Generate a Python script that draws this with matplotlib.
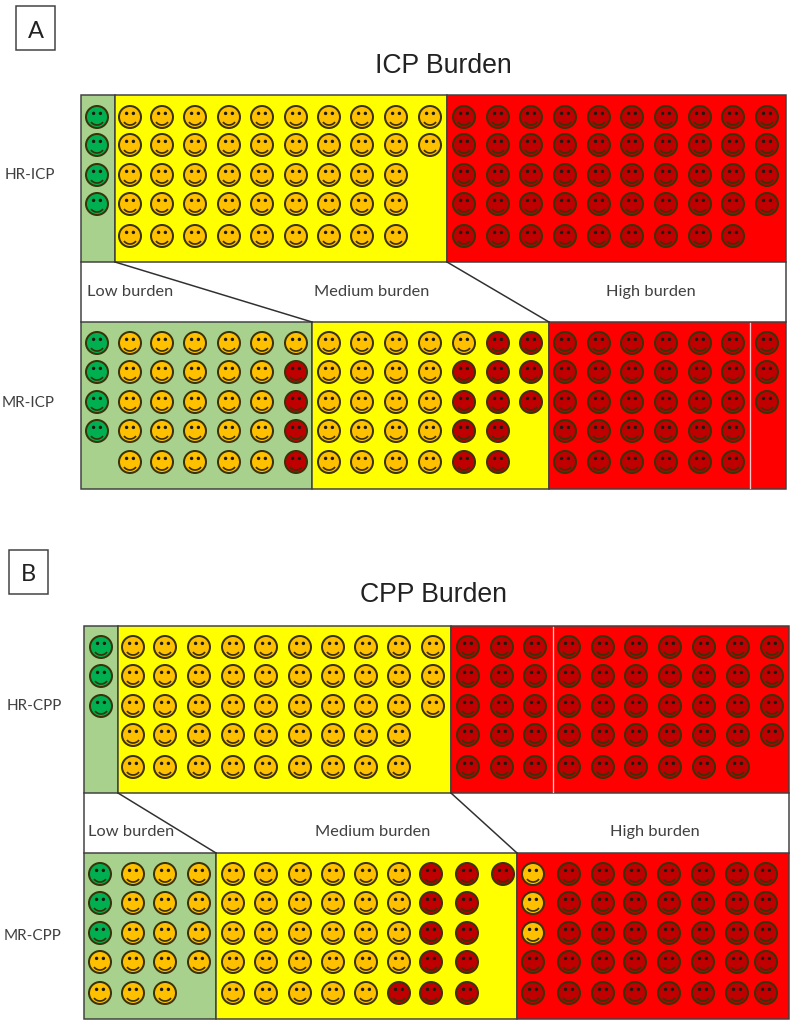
import matplotlib
matplotlib.use("Agg")
import matplotlib.pyplot as plt
from matplotlib.patches import Rectangle, Circle, Arc

# ---- data: number of faces per column (stacked green, amber, dark red from the top)
panels = ["ICP Burden", "CPP Burden"]
panel_letters = ["A", "B"]
burden_levels = ["Low burden", "Medium burden", "High burden"]
row_names = ["HR-ICP", "MR-ICP", "HR-CPP", "MR-CPP"]

hr_icp_green = [4] + [0] * 20
hr_icp_amber = [0] + [5] * 9 + [2] + [0] * 10
hr_icp_red = [0] * 11 + [5] * 9 + [4]

mr_icp_green = [4] + [0] * 20
mr_icp_amber = [0, 5, 5, 5, 5, 5, 1, 5, 5, 5, 5, 1, 0, 0, 0, 0, 0, 0, 0, 0, 0]
mr_icp_red = [0, 0, 0, 0, 0, 0, 4, 0, 0, 0, 0, 4, 5, 3, 5, 5, 5, 5, 5, 5, 3]

hr_cpp_green = [3] + [0] * 20
hr_cpp_amber = [0] + [5] * 9 + [3] + [0] * 10
hr_cpp_red = [0] * 11 + [5] * 9 + [4]

mr_cpp_green = [3] + [0] * 20
mr_cpp_amber = [2, 5, 5, 4, 5, 5, 5, 5, 5, 4, 0, 0, 0, 3, 0, 0, 0, 0, 0, 0, 0]
mr_cpp_red = [0, 0, 0, 0, 0, 0, 0, 0, 0, 1, 5, 5, 1, 2, 5, 5, 5, 5, 5, 5, 5]

# ---- layout, in reference pixels
W, H = 794, 1029
COLS_A = [97, 130, 162, 195, 229, 262, 296, 329, 362, 396, 430, 464, 498, 531, 565, 599, 632, 666, 700, 733, 767]
COLS_B_TOP = [101, 133, 165, 199, 233, 266, 300, 333, 366, 399, 433, 468, 502, 535, 569, 603, 636, 670, 704, 738, 772]
COLS_B_BOT = [100, 133, 165, 199, 233, 266, 300, 333, 366, 399, 431, 467, 503, 533, 569, 603, 635, 669, 703, 737, 766]
LAYOUT = [
    dict(x0=81, x1=786, y0=95, y1=262, s1=115, s2=447, cols=COLS_A, rows=[117, 145, 175, 204, 236],
         g=hr_icp_green, a=hr_icp_amber, r=hr_icp_red),
    dict(x0=81, x1=786, y0=322, y1=489, s1=312, s2=549, cols=COLS_A, rows=[343, 372, 402, 431, 462],
         g=mr_icp_green, a=mr_icp_amber, r=mr_icp_red),
    dict(x0=84, x1=789, y0=626, y1=793, s1=118, s2=451, cols=COLS_B_TOP, rows=[647, 676, 706, 735, 767],
         g=hr_cpp_green, a=hr_cpp_amber, r=hr_cpp_red),
    dict(x0=84, x1=789, y0=853, y1=1019, s1=216, s2=517, cols=COLS_B_BOT, rows=[874, 903, 933, 962, 993],
         g=mr_cpp_green, a=mr_cpp_amber, r=mr_cpp_red),
]
EDGE = "#404040"
TEXT = "#404040"
FACE_EDGE = "#3a3208"
BANDS = ["#A9D18E", "#FFFF00", "#FF0000"]
FACES = ["#00B050", "#FFC000", "#C00000"]
PX = 72 / 100

fig = plt.figure(figsize=(W / 100, H / 100), dpi=100)
ax = fig.add_axes([0, 0, 1, 1])
ax.set_xlim(0, W)
ax.set_ylim(H, 0)
ax.axis("off")


def face(x, y, color):
    ax.add_patch(Circle((x, y), 11, fc=color, ec=FACE_EDGE, lw=2.0 * PX, zorder=3))
    for dx in (-3.4, 3.4):
        ax.add_patch(Circle((x + dx, y - 3.6), 1.7, fc="#1c1c10", ec="none", zorder=4))
    ax.add_patch(Arc((x, y + 0.5), 15, 15, theta1=37, theta2=143, ec=FACE_EDGE, lw=1.7 * PX, zorder=4))


for p in LAYOUT:
    edges = [p["x0"], p["s1"], p["s2"], p["x1"]]
    for i, c in enumerate(BANDS):
        ax.add_patch(Rectangle((edges[i], p["y0"]), edges[i + 1] - edges[i], p["y1"] - p["y0"],
                               fc=c, ec=EDGE, lw=1.5 * PX, zorder=1))
    for ci, x in enumerate(p["cols"]):
        stack = [FACES[0]] * p["g"][ci] + [FACES[1]] * p["a"][ci] + [FACES[2]] * p["r"][ci]
        for ri, c in enumerate(stack):
            face(x, p["rows"][ri], c)

# white-space frames and connectors between the two rows
for top, bot in ((LAYOUT[0], LAYOUT[1]), (LAYOUT[2], LAYOUT[3])):
    for x in (top["x0"], top["x1"]):
        ax.plot([x, x], [top["y1"], bot["y0"]], color=EDGE, lw=1.5 * PX, zorder=1)
    for key in ("s1", "s2"):
        ax.plot([top[key], bot[key]], [top["y1"], bot["y0"]], color="#303030", lw=1.5 * PX, zorder=2)

# thin light seams
ax.plot([750, 750], [323, 488], color="#FFC8C8", lw=1.3 * PX, zorder=2)
ax.plot([553, 553], [627, 792], color="#FFC8C8", lw=1.3 * PX, zorder=2)

# panel letters
for letter, (x0, y0, x1, y1), base in zip(panel_letters, [(16, 6, 55, 50), (9, 550, 48, 594)], (38, 581)):
    ax.add_patch(Rectangle((x0, y0), x1 - x0, y1 - y0, fc="white", ec=EDGE, lw=1.5 * PX))
    ax.text((x0 + x1) / 2, base, letter, fontsize=17, family="Lato", color="#222222",
            ha="center", va="baseline")

for title, (x, y) in zip(panels, [(443.5, 73), (434, 602)]):
    ax.text(x, y, title, fontsize=19.2, family="Liberation Sans", color="#222222", ha="center", va="baseline")

for name, (x, y) in zip(row_names, [(29.5, 179), (28.5, 407), (34, 710), (33, 940)]):
    ax.text(x, y, name, fontsize=11, family="Lato", color=TEXT, ha="center", va="baseline")

for ys, xs in ((296, (130, 372, 651)), (836, (131, 373, 655))):
    for level, x in zip(burden_levels, xs):
        ax.text(x, ys, level, fontsize=11.8, family="Lato", color=TEXT, ha="center", va="baseline", zorder=5)

fig.savefig("out.png", dpi=100, facecolor="white")
